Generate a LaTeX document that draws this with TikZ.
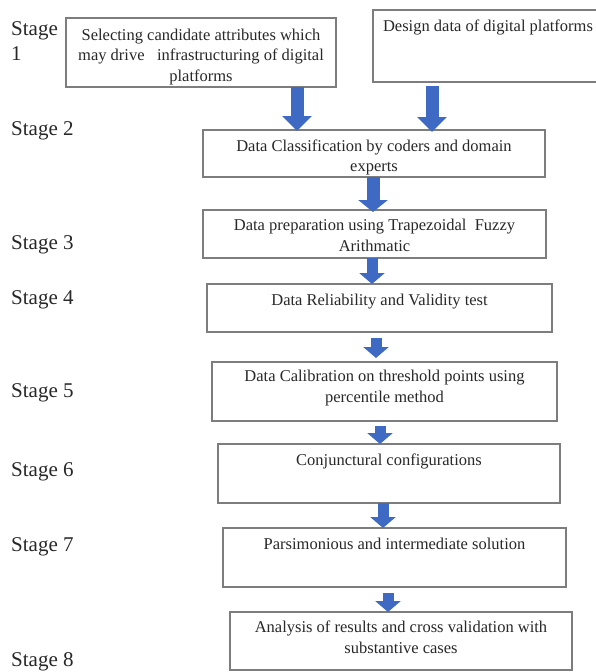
\documentclass[tikz,border=0pt]{standalone}
\usepackage{fontspec}
\setmainfont{Liberation Serif}
\usetikzlibrary{arrows.meta}
\definecolor{arrblue}{RGB}{62,106,196}
\definecolor{boxgray}{RGB}{125,125,125}
\definecolor{txtgray}{RGB}{40,40,40}
\begin{document}
\begin{tikzpicture}[x=1pt,y=-1pt,
  stagebox/.style={draw=boxgray, line width=1.1pt, inner sep=0pt, outer sep=0pt, anchor=north west},
  boxtext/.style={inner sep=0pt, align=center, text=txtgray, font=\fontsize{16.5}{20.5}\selectfont},
  stagelabel/.style={inner sep=0pt, anchor=west, align=left, text=txtgray, font=\fontsize{21}{25}\selectfont},
  bigarr/.style={arrblue, line width=13pt, -{Triangle[width=29pt,length=15pt]}},
  smallarr/.style={arrblue, line width=11pt, -{Triangle[width=25pt,length=11pt]}}
]
\useasboundingbox (0,0) rectangle (596,672);
\fill[white] (0,0) rectangle (596,672);
\clip (0,0) rectangle (596,672);

% boxes
\node[stagebox, minimum width=270pt, minimum height=69pt] (b1) at (66,18) {};
\node[stagebox, minimum width=230pt, minimum height=72pt] (b2) at (373,10) {};
\node[stagebox, minimum width=342pt, minimum height=47pt] (b3) at (203,130) {};
\node[stagebox, minimum width=343pt, minimum height=48pt] (b4) at (203,210) {};
\node[stagebox, minimum width=345pt, minimum height=48pt] (b5) at (207,284) {};
\node[stagebox, minimum width=345pt, minimum height=59pt] (b6) at (212,362) {};
\node[stagebox, minimum width=342pt, minimum height=59pt] (b7) at (218,444) {};
\node[stagebox, minimum width=343pt, minimum height=59pt] (b8) at (223,528) {};
\node[stagebox, minimum width=342pt, minimum height=58pt] (b9) at (230,612) {};

% box texts
\node[boxtext, below=10.5pt] (t1) at (b1.north) {Selecting candidate attributes which\\may drive~~~infrastructuring of digital\\platforms};
\node[boxtext, below=9.5pt] (t2) at (b2.north) {Design data of digital platforms};
\node[boxtext, below=9.5pt] (t3) at (b3.north) {Data Classification by coders and domain\\experts};
\node[boxtext, below=9pt] (t4) at (b4.north) {Data preparation using Trapezoidal~~Fuzzy\\Arithmatic};
\node[boxtext, below=9.5pt] (t5) at (b5.north) {Data Reliability and Validity test};
\node[boxtext, below=8pt] (t6) at (b6.north) {Data Calibration on threshold points using\\percentile method};
\node[boxtext, below=9.5pt] (t7) at (b7.north) {Conjunctural configurations};
\node[boxtext, below=9.5pt] (t8) at (b8.north) {Parsimonious and intermediate solution};
\node[boxtext, below=9pt] (t9) at (b9.north) {Analysis of results and cross validation with\\substantive cases};

% stage labels
\node[stagelabel] (s1) at (11,41) {Stage\\1};
\node[stagelabel] (s2) at (11,131) {Stage 2};
\node[stagelabel] (s3) at (11,245) {Stage 3};
\node[stagelabel] (s4) at (11,300) {Stage 4};
\node[stagelabel] (s5) at (11,393) {Stage 5};
\node[stagelabel] (s6) at (11,472) {Stage 6};
\node[stagelabel] (s7) at (11,547) {Stage 7};
\node[stagelabel] (s8) at (11,662) {Stage 8};

% arrow axes
\coordinate (x1) at (297,0);
\coordinate (x2) at (432,0);
\coordinate (x3) at (373,0);
\coordinate (x4) at (372,0);
\coordinate (x5) at (376,0);
\coordinate (x6) at (380,0);
\coordinate (x7) at (383,0);
\coordinate (x8) at (388,0);

% arrows
\draw[bigarr] (b1.south -| x1) -- ([yshift=-1pt]b3.north -| x1);
\draw[bigarr, shorten <=4pt] (b2.south -| x2) -- ([yshift=-2pt]b3.north -| x2);
\draw[bigarr, -{Triangle[width=29pt,length=12pt]}] (b3.south -| x3) -- ([yshift=-2pt]b4.north -| x3);
\draw[smallarr] (b4.south -| x4) -- (b5.north -| x4);
\draw[smallarr, shorten <=6pt, shorten >=4pt] (b5.south -| x5) -- (b6.north -| x5);
\draw[smallarr, shorten <=5pt] (b6.south -| x6) -- (b7.north -| x6);
\draw[smallarr] (b7.south -| x7) -- (b8.north -| x7);
\draw[smallarr, shorten <=6pt] (b8.south -| x8) -- (b9.north -| x8);
\end{tikzpicture}
\end{document}
